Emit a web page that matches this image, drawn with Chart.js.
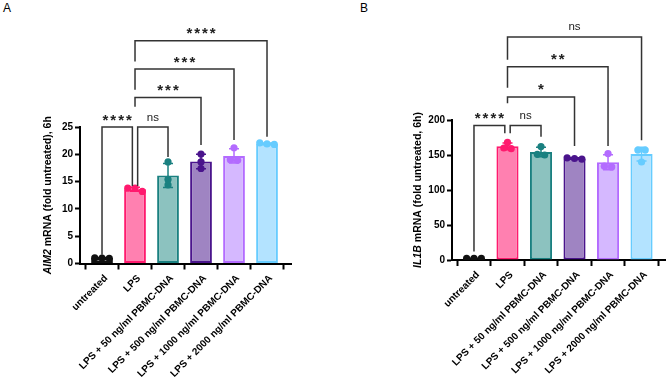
<!DOCTYPE html>
<html lang="en">
<head>
<meta charset="UTF-8" />
<title>AIM2 / IL1B mRNA after LPS + PBMC-DNA</title>
<script src="https://cdn.jsdelivr.net/npm/chart.js"></script>
<style>
  body {
    margin: 0;
    background: #fff;
    width: 669px;
    height: 380px;
    position: relative;
    overflow: hidden;
    font-family: "Liberation Sans", Arial, sans-serif;
  }
  canvas { position: absolute; top: 0; }
  #chartA { left: 0; }
  #chartB { left: 335px; }
  .panel { position: absolute; top: 1px; font-size: 12px; color: #000; }
</style>
</head>
<body>
<div class="panel" style="left:3px">A</div>
<div class="panel" style="left:360px">B</div>
<canvas id="chartA" width="335" height="380"></canvas>
<canvas id="chartB" width="334" height="380"></canvas>

<script>
// groups and colours
const groups = [
  "untreated",
  "LPS",
  "LPS + 50 ng/ml PBMC-DNA",
  "LPS + 500 ng/ml PBMC-DNA",
  "LPS + 1000 ng/ml PBMC-DNA",
  "LPS + 2000 ng/ml PBMC-DNA",
];
const fillColors = ["#808080", "#ff80b0", "#8cc2bf", "#9f84c2", "#d5b8ff", "#b3e3ff"];
const lineColors = ["#111111", "#ff1a6e", "#1a8080", "#4a148c", "#b36bff", "#66ccff"];

// replicate values (3 per group)
const aim2Reps = [
  [1.0, 1.05, 0.95],
  [13.2, 13.8, 13.8],
  [18.6, 15.4, 14.4],
  [20.05, 18.6, 17.4],
  [21.2, 19.0, 18.9],
  [21.8, 22.1, 21.9],
];
const il1bReps = [
  [2.2, 2.5, 2.3],
  [168, 160, 159],
  [162, 151, 150],
  [145, 146, 144],
  [152, 134, 133],
  [157, 157, 140],
];
const aim2Ticks = [0, 5, 10, 15, 20, 25];
const il1bTicks = [0, 50, 100, 150, 200];

// significance brackets (x in group index, y in axis units)
const aim2SigFrom = [0, 1.08, 1, 1, 1];
const aim2SigTo = [0.92, 2, 3, 4, 5];
const aim2SigLevel = [25, 25, 30.4, 35.6, 40.8];
const aim2SigLeftEnd = [1.6, 14.2, 28.7, 31.8, 37];
const aim2SigRightEnd = [14.2, 19.5, 21.7, 22.6, 23.2];
const aim2SigText = ["****", "ns", "***", "***", "****"];

const il1bSigFrom = [0, 1.08, 1, 1, 1];
const il1bSigTo = [0.92, 2, 3, 4, 5];
const il1bSigLevel = [192, 192, 233, 276, 318.6];
const il1bSigLeftEnd = [12, 181, 224, 246, 286];
const il1bSigRightEnd = [181, 176, 163, 163, 171];
const il1bSigText = ["****", "ns", "*", "**", "ns"];

const FONT = '"Liberation Sans", Arial, sans-serif';

const mean = (a) => a.reduce((s, v) => s + v, 0) / a.length;
const sd = (a) => {
  const m = mean(a);
  return Math.sqrt(a.reduce((s, v) => s + (v - m) * (v - m), 0) / (a.length - 1));
};

// spread dots with nearly equal values side by side, like Prism does
function swarm(values, gap, step) {
  const order = values.map((v, i) => i).sort((a, b) => values[b] - values[a]);
  const offs = new Array(values.length).fill(0);
  let row = [];
  const flush = () => row.forEach((idx, k) => (offs[idx] = (k - (row.length - 1) / 2) * step));
  order.forEach((idx) => {
    if (row.length && values[row[0]] - values[idx] >= gap) {
      flush();
      row = [];
    }
    row.push(idx);
  });
  flush();
  return offs;
}

function makeChart(canvas, cfg) {
  const reps = cfg.reps;
  const dots = [];
  const dotColors = [];
  reps.forEach((r, i) => {
    const o = swarm(r, cfg.dotGap, 0.22);
    r.forEach((v, k) => {
      dots.push({ x: i + o[k], y: v });
      dotColors.push(lineColors[i]);
    });
  });

  const extras = {
    id: "extras",
    afterDatasetDraw(chart, args) {
      if (args.index !== 0) return;
      // error bars (mean ± SD)
      const { x, y } = chart.scales;
      const ctx = chart.ctx;
      ctx.save();
      ctx.lineWidth = 1.5;
      reps.forEach((r, i) => {
        const m = mean(r), s = sd(r);
        const px = x.getPixelForValue(i);
        const top = y.getPixelForValue(m + s);
        const bot = y.getPixelForValue(Math.max(0, m - s));
        ctx.strokeStyle = lineColors[i];
        ctx.beginPath();
        ctx.moveTo(px, top); ctx.lineTo(px, bot);
        ctx.moveTo(px - 5, top); ctx.lineTo(px + 5, top);
        ctx.moveTo(px - 5, bot); ctx.lineTo(px + 5, bot);
        ctx.stroke();
      });
      ctx.restore();
    },
    afterDraw(chart) {
      const { x, y } = chart.scales;
      const ctx = chart.ctx;
      const area = chart.chartArea;
      ctx.save();
      // y axis title, first word in italics
      ctx.translate(cfg.titleX, (area.top + area.bottom) / 2);
      ctx.rotate(-Math.PI / 2);
      ctx.fillStyle = "#000";
      ctx.textBaseline = "middle";
      ctx.font = "italic bold 10.5px " + FONT;
      const w1 = ctx.measureText(cfg.titleItalic).width;
      ctx.font = "bold 10.5px " + FONT;
      const w2 = ctx.measureText(cfg.titleRest).width;
      let start = -(w1 + w2) / 2;
      ctx.font = "italic bold 10.5px " + FONT;
      ctx.fillText(cfg.titleItalic, start, 0);
      ctx.font = "bold 10.5px " + FONT;
      ctx.fillText(cfg.titleRest, start + w1, 0);
      ctx.restore();

      // significance brackets
      ctx.save();
      ctx.strokeStyle = "#333";
      ctx.lineWidth = 1.5;
      ctx.fillStyle = "#222";
      cfg.sig.text.forEach((t, i) => {
        const x1 = x.getPixelForValue(cfg.sig.from[i]);
        const x2 = x.getPixelForValue(cfg.sig.to[i]);
        const yl = y.getPixelForValue(cfg.sig.level[i]);
        const y1 = y.getPixelForValue(cfg.sig.leftEnd[i]);
        const y2 = y.getPixelForValue(cfg.sig.rightEnd[i]);
        ctx.beginPath();
        ctx.moveTo(x1, y1); ctx.lineTo(x1, yl); ctx.lineTo(x2, yl); ctx.lineTo(x2, y2);
        ctx.stroke();
        const cx = (x1 + x2) / 2;
        const cy = yl - 9.5;
        ctx.textBaseline = "alphabetic";
        ctx.textAlign = "center";
        if (t[0] === "*") {
          ctx.font = "bold 15px " + FONT;
          const mt = ctx.measureText("*");
          const off = (mt.actualBoundingBoxAscent - mt.actualBoundingBoxDescent) / 2;
          const step = 7.8;
          for (let k = 0; k < t.length; k++) {
            ctx.fillText("*", cx + (k - (t.length - 1) / 2) * step, cy + off);
          }
        } else {
          ctx.font = "11.5px " + FONT;
          const mt = ctx.measureText(t);
          const off = (mt.actualBoundingBoxAscent - mt.actualBoundingBoxDescent) / 2;
          ctx.fillText(t, cx, cy + off);
        }
      });
      ctx.restore();
    },
  };

  return new Chart(canvas, {
    type: "bar",
    data: {
      datasets: [
        {
          type: "bar",
          data: reps.map((r, i) => ({ x: i, y: mean(r) })),
          backgroundColor: fillColors,
          borderColor: lineColors,
          borderWidth: 2,
          borderSkipped: false,
          barPercentage: 0.66,
          categoryPercentage: 1,
          order: 2,
        },
        {
          type: "scatter",
          data: dots,
          pointRadius: 3.6,
          pointBackgroundColor: dotColors,
          pointBorderWidth: 0,
          order: 1,
        },
      ],
    },
    options: {
      responsive: false,
      animation: false,
      devicePixelRatio: 1,
      layout: { padding: cfg.padding },
      plugins: { legend: { display: false }, tooltip: { enabled: false } },
      scales: {
        x: {
          type: "linear",
          min: cfg.xMin,
          max: cfg.xMax,
          offset: false,
          afterBuildTicks: (s) => { s.ticks = groups.map((g, i) => ({ value: i })); },
          afterFit: (s) => { s.height = cfg.xHeight; },
          ticks: {
            autoSkip: false,
            minRotation: 45,
            maxRotation: 45,
            padding: 3,
            labelOffset: 4,
            color: "#000",
            font: { family: FONT, size: 10, weight: "bold" },
            callback: (v) => groups[v] ?? "",
          },
          grid: { display: true, drawOnChartArea: false, tickLength: 6, tickWidth: 2, tickColor: "#000" },
          border: { color: "#000", width: 2 },
        },
        y: {
          min: 0,
          max: cfg.yTicks[cfg.yTicks.length - 1],
          afterBuildTicks: (s) => { s.ticks = cfg.yTicks.map((v) => ({ value: v })); },
          afterFit: (s) => { s.width = cfg.yWidth; },
          ticks: {
            padding: 2,
            color: "#000",
            font: { family: FONT, size: 10, weight: "bold" },
          },
          grid: { display: true, drawOnChartArea: false, tickLength: 5, tickWidth: 2, tickColor: "#000" },
          border: { color: "#000", width: 2 },
        },
      },
    },
    plugins: [extras],
  });
}

makeChart(document.getElementById("chartA"), {
  reps: aim2Reps,
  yTicks: aim2Ticks,
  dotGap: 0.9,
  xMin: -0.667,
  xMax: 5.727,
  padding: { left: 0, right: 44, top: 127, bottom: 0 },
  yWidth: 80,
  xHeight: 116.5,
  titleX: 48,
  titleItalic: "AIM2",
  titleRest: " mRNA (fold untreated), 6h",
  sig: {
    from: aim2SigFrom, to: aim2SigTo, level: aim2SigLevel,
    leftEnd: aim2SigLeftEnd, rightEnd: aim2SigRightEnd, text: aim2SigText,
  },
});

makeChart(document.getElementById("chartB"), {
  reps: il1bReps,
  yTicks: il1bTicks,
  dotGap: 7,
  xMin: -0.656,
  xMax: 5.70,
  padding: { left: 0, right: 1, top: 120, bottom: 0 },
  yWidth: 117,
  xHeight: 120,
  titleX: 83,
  titleItalic: "IL1B",
  titleRest: " mRNA (fold untreated, 6h)",
  sig: {
    from: il1bSigFrom, to: il1bSigTo, level: il1bSigLevel,
    leftEnd: il1bSigLeftEnd, rightEnd: il1bSigRightEnd, text: il1bSigText,
  },
});
</script>
</body>
</html>
